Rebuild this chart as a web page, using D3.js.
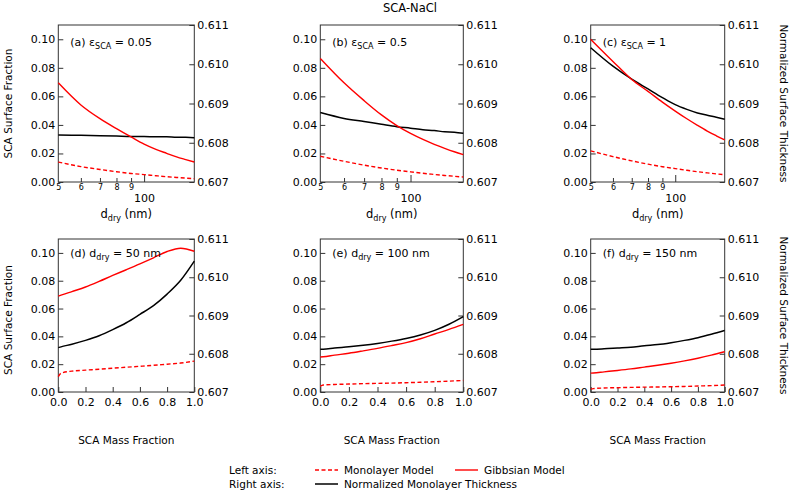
<!DOCTYPE html>
<html>
<head>
<meta charset="utf-8">
<script src="https://cdn.jsdelivr.net/npm/d3@7/dist/d3.min.js"></script>
<style>
  html, body { margin: 0; padding: 0; background: #fff; }
  svg { display: block; font-family: "DejaVu Sans", sans-serif; }
</style>
</head>
<body>
<svg id="chart" width="792" height="492"></svg>
<script>
// ---------------- DATA ----------------
const title = "SCA-NaCl";
const dryDiameter = [50, 60, 70, 80, 90, 100, 110, 120, 130, 140, 150];
const logTickValues = [50, 60, 70, 80, 90, 100];
const logTickLabels = ["5", "6", "7", "8", "9", "100"];

// (a) eps = 0.05
const gibbsA = [0.0695, 0.054, 0.0444, 0.0374, 0.0316, 0.0266, 0.0229, 0.0201, 0.0176, 0.0157, 0.014];
const monoA  = [0.014, 0.0108, 0.0088, 0.0072, 0.006, 0.0052, 0.0044, 0.0037, 0.0032, 0.0027, 0.0023];
const thickA = [0.60820, 0.60819, 0.60818, 0.60817, 0.60816, 0.60816, 0.60815, 0.60815, 0.60814, 0.60814, 0.60813];
// (b) eps = 0.5
const gibbsB = [0.0866, 0.0695, 0.0570, 0.0470, 0.0395, 0.0340, 0.0298, 0.0264, 0.0236, 0.0212, 0.0192];
const monoB  = [0.018, 0.0145, 0.0118, 0.0098, 0.0083, 0.0071, 0.0061, 0.0053, 0.0046, 0.0040, 0.0035];
const thickB = [0.60877, 0.60862, 0.60854, 0.60847, 0.60841, 0.60837, 0.60833, 0.60831, 0.60828, 0.60827, 0.60824];
// (c) eps = 1
const gibbsC = [0.100, 0.0845, 0.0718, 0.0635, 0.056, 0.0497, 0.0443, 0.0397, 0.0357, 0.0324, 0.0295];
const monoC  = [0.0218, 0.0178, 0.0148, 0.0125, 0.0107, 0.0094, 0.0082, 0.0072, 0.0064, 0.0057, 0.0051];
const thickC = [0.61042, 0.60995, 0.60962, 0.60937, 0.60915, 0.60897, 0.60885, 0.60876, 0.60870, 0.60865, 0.60860];

const massFraction = [0, 0.02, 0.1, 0.2, 0.3, 0.4, 0.5, 0.6, 0.7, 0.8, 0.9, 1.0];
const massTicks = [0, 0.2, 0.4, 0.6, 0.8, 1.0];
// (d) ddry = 50 nm
const gibbsD = [0.0690, 0.0696, 0.0722, 0.0755, 0.0795, 0.0838, 0.0879, 0.0921, 0.0965, 0.1010, 0.1034, 0.1012];
const monoD  = [0.0110, 0.0135, 0.0150, 0.0157, 0.0164, 0.0171, 0.0178, 0.0185, 0.0192, 0.0200, 0.0208, 0.0222];
const thickD = [0.60816, 0.60818, 0.60825, 0.60835, 0.60847, 0.60863, 0.60881, 0.60903, 0.60926, 0.60956, 0.60992, 0.61042];
// (e) ddry = 100 nm
const gibbsE = [0.0252, 0.0253, 0.0265, 0.0279, 0.0296, 0.0314, 0.0334, 0.0355, 0.0383, 0.0417, 0.0450, 0.0486];
const monoE  = [0.0040, 0.0050, 0.0054, 0.0057, 0.0060, 0.0062, 0.0064, 0.0067, 0.0070, 0.0074, 0.0078, 0.0083];
const thickE = [0.60812, 0.60812, 0.60815, 0.60818, 0.60822, 0.60827, 0.60833, 0.60840, 0.60849, 0.60861, 0.60877, 0.60897];
// (f) ddry = 150 nm
const gibbsF = [0.0136, 0.0137, 0.0145, 0.0155, 0.0166, 0.0179, 0.0192, 0.0207, 0.0224, 0.0243, 0.0265, 0.0290];
const monoF  = [0.0021, 0.0024, 0.0029, 0.0031, 0.0033, 0.0035, 0.0036, 0.0038, 0.0040, 0.0043, 0.0046, 0.0050];
const thickF = [0.60812, 0.60812, 0.60813, 0.60815, 0.60817, 0.60821, 0.60824, 0.60829, 0.60835, 0.60842, 0.60851, 0.60861];

const leftTicks = [0, 0.02, 0.04, 0.06, 0.08, 0.10];
const rightTicks = [0.607, 0.608, 0.609, 0.610, 0.611];

const panelLabels = [
  {pre: "(a) ", sym: "ε", sub: "SCA", post: " = 0.05"},
  {pre: "(b) ", sym: "ε", sub: "SCA", post: " = 0.5"},
  {pre: "(c) ", sym: "ε", sub: "SCA", post: " = 1"},
  {pre: "(d) ", sym: "d", sub: "dry", post: " = 50 nm"},
  {pre: "(e) ", sym: "d", sub: "dry", post: " = 100 nm"},
  {pre: "(f) ", sym: "d", sub: "dry", post: " = 150 nm"}
];

// ---------------- LAYOUT ----------------
const colX = [[58.3, 194.3], [320.3, 463.3], [590.7, 724.7]];
const rowY = [[25, 182], [239, 392]];
const RED = "#f00";
const AX = "#333";
const TITLE_FS = 10.5;

const svg = d3.select("#chart");

svg.append("text").attr("x", 410).attr("y", 12).attr("text-anchor", "middle")
  .attr("font-size", 11.5).attr("fill", "#000").text(title);

const panels = [
  {row: 0, col: 0, x: dryDiameter, g: gibbsA, m: monoA, t: thickA},
  {row: 0, col: 1, x: dryDiameter, g: gibbsB, m: monoB, t: thickB},
  {row: 0, col: 2, x: dryDiameter, g: gibbsC, m: monoC, t: thickC},
  {row: 1, col: 0, x: massFraction, g: gibbsD, m: monoD, t: thickD},
  {row: 1, col: 1, x: massFraction, g: gibbsE, m: monoE, t: thickE},
  {row: 1, col: 2, x: massFraction, g: gibbsF, m: monoF, t: thickF}
];

panels.forEach((p, i) => {
  const [x0, x1] = colX[p.col];
  const [y0, y1] = rowY[p.row];
  const xs = p.row === 0
    ? d3.scaleLog().domain([50, 150]).range([x0, x1])
    : d3.scaleLinear().domain([0, 1]).range([x0, x1]);
  const yl = d3.scaleLinear().domain([0, 0.11]).range([y1, y0]);
  const yr = d3.scaleLinear().domain([0.607, 0.611]).range([y1, y0]);

  // left axis
  const la = svg.append("g").attr("transform", `translate(${x0},0)`)
    .call(d3.axisLeft(yl).tickValues(leftTicks).tickFormat(d3.format(".2f"))
      .tickSize(-5).tickSizeOuter(0).tickPadding(3));
  la.select(".domain").remove();
  la.selectAll("line").attr("stroke", AX);
  la.selectAll("text").attr("font-size", 11).attr("font-family", "DejaVu Sans").attr("fill", "#000");

  // right axis
  const ra = svg.append("g").attr("transform", `translate(${x1},0)`)
    .call(d3.axisRight(yr).tickValues(rightTicks).tickFormat(d3.format(".3f"))
      .tickSize(-5).tickSizeOuter(0).tickPadding(3));
  ra.select(".domain").remove();
  ra.selectAll("line").attr("stroke", AX);
  ra.selectAll("text").attr("font-size", 11).attr("font-family", "DejaVu Sans").attr("fill", "#000");

  // bottom axis
  if (p.row === 0) {
    const ba = svg.append("g").attr("transform", `translate(0,${y1})`)
      .call(d3.axisBottom(xs).tickValues(logTickValues)
        .tickFormat((d, k) => logTickLabels[k]).tickSizeOuter(0).tickPadding(2));
    ba.select(".domain").remove();
    ba.selectAll(".tick line").attr("stroke", AX)
      .attr("y2", d => d === 100 ? -7 : (d === 50 ? 0 : -4));
    ba.selectAll(".tick text").attr("font-family", "DejaVu Sans").attr("fill", "#000")
      .attr("dy", null)
      .attr("font-size", d => d === 100 ? 11 : 8)
      .attr("y", d => d === 100 ? 19.6 : 8);
    svg.append("text").attr("x", (x0 + x1) / 2).attr("y", y1 + 36)
      .attr("text-anchor", "middle").attr("font-size", 11.5).attr("fill", "#000")
      .call(t => {
        t.append("tspan").text("d");
        t.append("tspan").attr("font-size", 8).attr("dy", 3).text("dry");
        t.append("tspan").attr("dy", -3).text(" (nm)");
      });
  } else {
    const ba = svg.append("g").attr("transform", `translate(0,${y1})`)
      .call(d3.axisBottom(xs).tickValues(massTicks).tickFormat(d3.format(".1f"))
        .tickSize(-5).tickSizeOuter(0).tickPadding(6));
    ba.select(".domain").remove();
    ba.selectAll("line").attr("stroke", AX);
    ba.selectAll("text").attr("font-size", 11).attr("font-family", "DejaVu Sans").attr("fill", "#000");
    svg.append("text").attr("x", (x0 + x1) / 2).attr("y", 444)
      .attr("text-anchor", "middle").attr("font-size", TITLE_FS).attr("fill", "#000")
      .text("SCA Mass Fraction");
  }

  // frame
  svg.append("rect").attr("x", x0).attr("y", y0).attr("width", x1 - x0).attr("height", y1 - y0)
    .attr("fill", "none").attr("stroke", AX).attr("stroke-width", 1);

  // lines
  const idx = d3.range(p.x.length);
  const lineL = arr => d3.line().x(k => xs(p.x[k])).y(k => yl(arr[k])).curve(d3.curveMonotoneX)(idx);
  const lineR = arr => d3.line().x(k => xs(p.x[k])).y(k => yr(arr[k])).curve(d3.curveMonotoneX)(idx);

  svg.append("path").attr("d", lineL(p.m)).attr("fill", "none").attr("stroke", RED)
    .attr("stroke-width", 1.4).attr("stroke-dasharray", "4,2.5");
  svg.append("path").attr("d", lineR(p.t)).attr("fill", "none").attr("stroke", "#000")
    .attr("stroke-width", 1.5);
  svg.append("path").attr("d", lineL(p.g)).attr("fill", "none").attr("stroke", RED)
    .attr("stroke-width", 1.4);

  // panel label
  const lab = panelLabels[i];
  const ly = p.row === 0 ? y0 + 20.5 : y0 + 17.5;
  svg.append("text").attr("x", x0 + 12).attr("y", ly).attr("font-size", 11).attr("fill", "#000")
    .call(t => {
      t.append("tspan").text(lab.pre + lab.sym);
      t.append("tspan").attr("font-size", 8).attr("dy", 3).text(lab.sub);
      t.append("tspan").attr("dy", -3).text(lab.post);
    });
});

// axis titles
[[12, 103.5], [12, 320]].forEach(([x, y]) => {
  svg.append("text").attr("transform", `translate(${x},${y}) rotate(-90)`)
    .attr("text-anchor", "middle").attr("font-size", TITLE_FS).attr("fill", "#000")
    .text("SCA Surface Fraction");
});
[[780, 103.5], [780, 315.5]].forEach(([x, y]) => {
  svg.append("text").attr("transform", `translate(${x},${y}) rotate(90)`)
    .attr("text-anchor", "middle").attr("font-size", TITLE_FS).attr("fill", "#000")
    .text("Normalized Surface Thickness");
});

// legend
const leg = svg.append("g").attr("font-size", TITLE_FS).attr("fill", "#000");
leg.append("text").attr("x", 229).attr("y", 474).text("Left axis:");
leg.append("text").attr("x", 229).attr("y", 488).text("Right axis:");
leg.append("line").attr("x1", 315).attr("x2", 338).attr("y1", 470).attr("y2", 470)
  .attr("stroke", RED).attr("stroke-width", 1.4).attr("stroke-dasharray", "4,2.5");
leg.append("text").attr("x", 344).attr("y", 474).text("Monolayer Model");
leg.append("line").attr("x1", 455).attr("x2", 478).attr("y1", 470).attr("y2", 470)
  .attr("stroke", RED).attr("stroke-width", 1.4);
leg.append("text").attr("x", 484).attr("y", 474).text("Gibbsian Model");
leg.append("line").attr("x1", 315).attr("x2", 338).attr("y1", 484).attr("y2", 484)
  .attr("stroke", "#000").attr("stroke-width", 1.5);
leg.append("text").attr("x", 344).attr("y", 488).text("Normalized Monolayer Thickness");
</script>
</body>
</html>
